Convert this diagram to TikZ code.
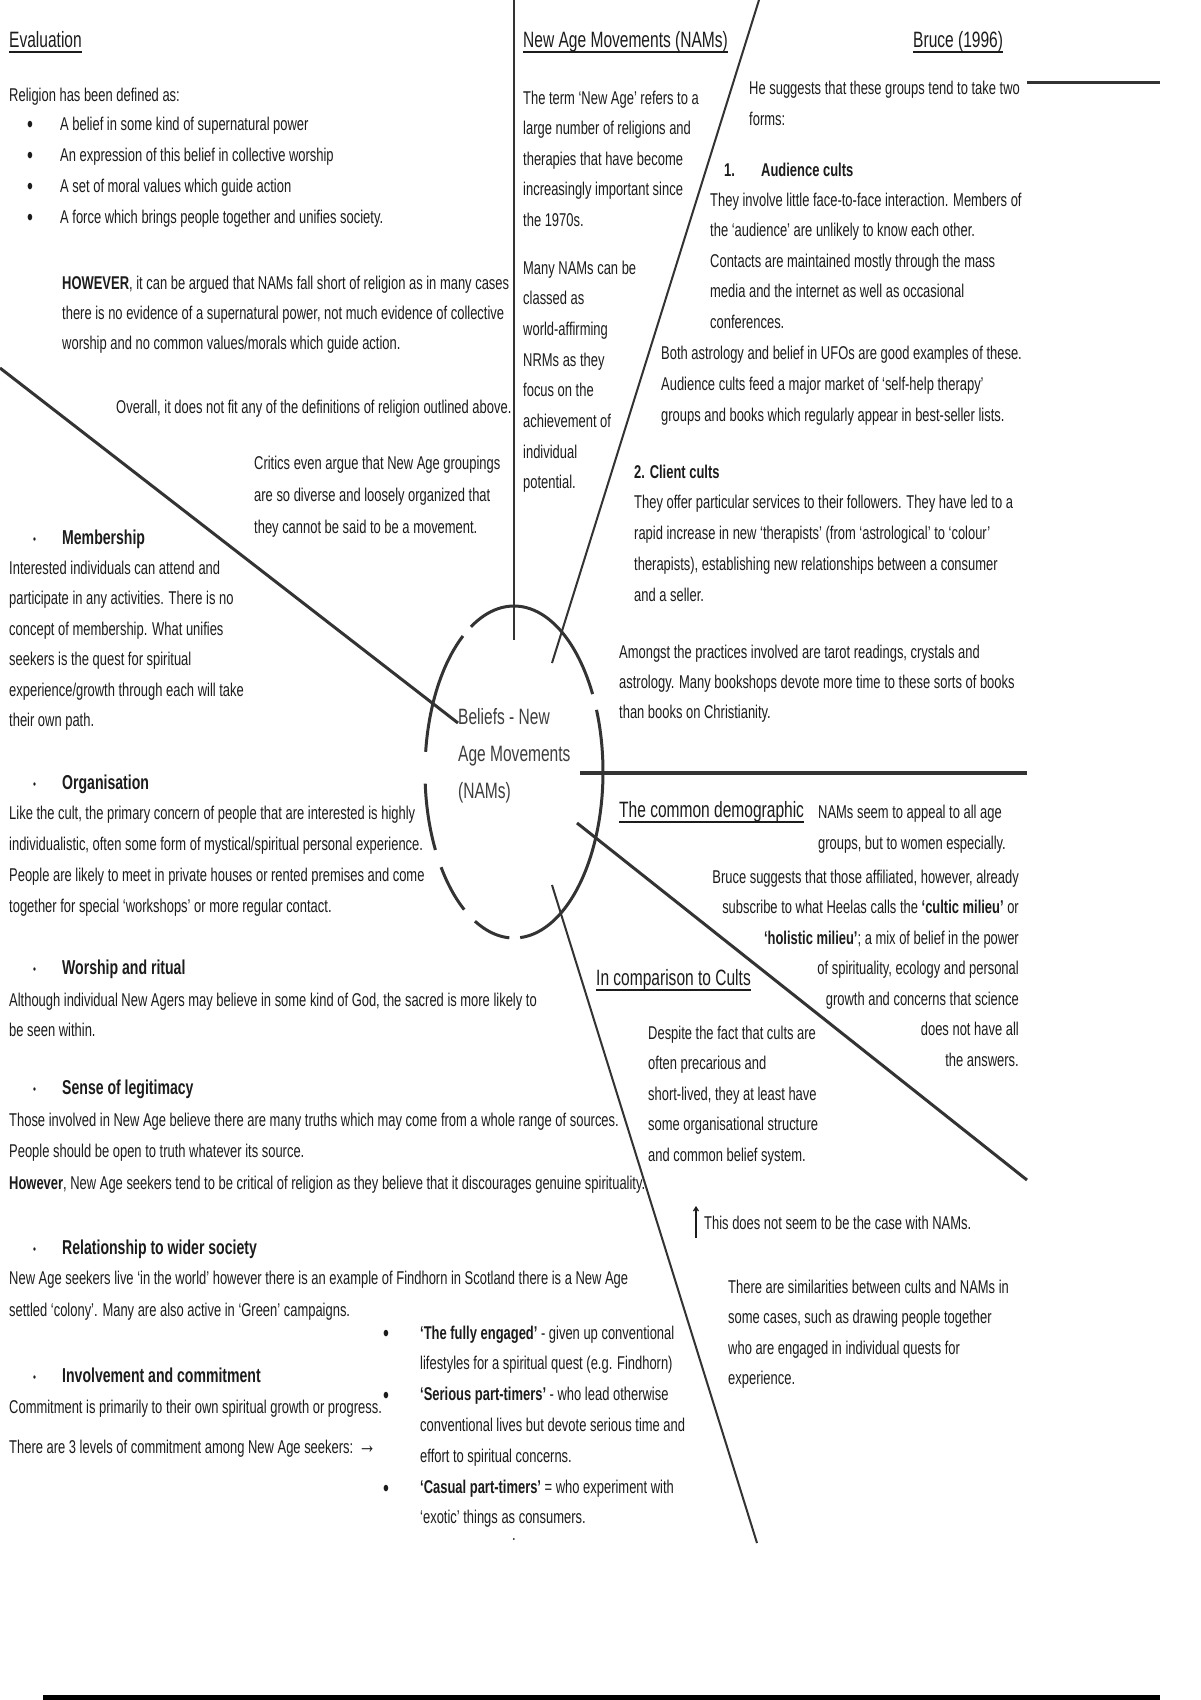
\documentclass[tikz,border=0pt]{standalone}
\usepackage{fontspec}
\usetikzlibrary{arrows.meta}
\setmainfont{Liberation Sans}[FakeStretch=0.70]
\definecolor{txtc}{HTML}{1C1C1C}
\definecolor{linec}{HTML}{333333}
\newcommand\txtblock[6]{%
  \foreach \lineText [count=\idx from 0] in {#6} {%
    \node[#2] (#1-\idx) at (#3, {#4+\idx*#5}) {\lineText};
  }%
}
\newcommand\ulinenode[1]{\draw[uline] ([yshift=-4pt]#1.base west) -- ([yshift=-4pt]#1.base east);}
\begin{document}
\begin{tikzpicture}[x=1pt,y=-1pt,
  bodytxt/.style={inner sep=0pt, anchor=base west, text=txtc, font=\fontsize{18.5}{22}\selectfont},
  bodyright/.style={bodytxt, anchor=base east},
  headtxt/.style={inner sep=0pt, anchor=base west, text=txtc, font=\fontsize{22.2}{26}\selectfont},
  circtxt/.style={inner sep=0pt, anchor=base west, text=txtc!85, font=\fontsize{22.2}{26}\selectfont},
  subhead/.style={inner sep=0pt, anchor=base west, text=txtc, font=\fontsize{20.1}{24}\selectfont\bfseries},
  boldtxt/.style={inner sep=0pt, anchor=base west, text=txtc, font=\fontsize{18.5}{22}\selectfont\bfseries},
  smallbul/.style={inner sep=0pt, anchor=base west, text=txtc, font=\fontsize{12}{14}\selectfont},
  bigbul/.style={inner sep=0pt, anchor=base west, text=txtc, font=\fontsize{24}{28}\selectfont},
  uline/.style={line width=2pt, draw=txtc},
  thinline/.style={draw=linec, line width=2pt},
  midline/.style={draw=linec, line width=3pt},
  thickline/.style={draw=linec, line width=4pt},
  circ/.style={draw=linec, line width=3pt},
]
\useasboundingbox (0,0) rectangle (1200,1700);
\fill[white] (0,0) rectangle (1200,1700);

% ---------- dividing lines ----------
\coordinate (vTop) at (514,0);   \coordinate (vBot) at (514,640);
\coordinate (dA) at (759,0);     \coordinate (dB) at (552,663);
\coordinate (ulA) at (0,368);    \coordinate (ulB) at (458,723);
\coordinate (hA) at (580,773);   \coordinate (hB) at (1027,773);
\coordinate (lrA) at (577,823);  \coordinate (lrB) at (1027,1180);
\coordinate (ldA) at (552,885);  \coordinate (ldB) at (757,1543);
\coordinate (trA) at (1027,82);  \coordinate (trB) at (1160,82);
\coordinate (btA) at (43,1697);  \coordinate (btB) at (1160,1697);
\draw[thinline] (vTop) -- (vBot);
\draw[thinline] (dA) -- (dB);
\draw[midline] (ulA) -- (ulB);
\draw[thickline] (hA) -- (hB);
\draw[midline] (lrA) -- (lrB);
\draw[thinline] (ldA) -- (ldB);
\draw[midline] (trA) -- (trB);
\draw[line width=5pt, black] (btA) -- (btB);

% ---------- central dashed ellipse ----------
\coordinate (C) at (514,772);
\foreach \a/\b in {28/119,125/173,184/208,215/236,244/267,274/382} {
  \draw[circ] plot[domain=\a:\b, samples=40, smooth] ({514+89*cos(\x)}, {772-166*sin(\x)});
}
\txtblock{ctr}{circtxt}{458}{724}{37}{{Beliefs - New},{Age Movements},{(NAMs)}}

% ---------- Evaluation (left top) ----------
\node[headtxt] (hEval) at (9,47.5) {Evaluation};
\ulinenode{hEval}
\node[bodytxt] (relig) at (9,101) {Religion has been defined as:};
\txtblock{rbul}{bigbul}{27}{132}{31}{{•},{•},{•},{•}}
\txtblock{rdef}{bodytxt}{60}{130}{31}{{A belief in some kind of supernatural power},{An expression of this belief in collective worship},{A set of moral values which guide action},{A force which brings people together and unifies society.}}
\txtblock{howev}{bodytxt}{62}{289}{30}{{\textbf{HOWEVER}, it can be argued that NAMs fall short of religion as in many cases},{there is no evidence of a supernatural power, not much evidence of collective},{worship and no common values/morals which guide action.}}
\node[bodytxt] (overall) at (116,413) {Overall, it does not fit any of the definitions of religion outlined above.};
\txtblock{critics}{bodytxt}{254}{469}{32}{{Critics even argue that New Age groupings},{are so diverse and loosely organized that},{they cannot be said to be a movement.}}

% ---------- left column headings ----------
\node[smallbul] (b1) at (33,543) {•};
\node[subhead] (hMemb) at (62,544) {Membership};
\txtblock{memb}{bodytxt}{9}{574}{30.5}{{Interested individuals can attend and},{participate in any activities. There is no},{concept of membership. What unifies},{seekers is the quest for spiritual},{experience/growth through each will take},{their own path.}}

\node[smallbul] (b2) at (33,788) {•};
\node[subhead] (hOrg) at (62,789) {Organisation};
\txtblock{org}{bodytxt}{9}{819}{31}{{Like the cult, the primary concern of people that are interested is highly},{individualistic, often some form of mystical/spiritual personal experience.},{People are likely to meet in private houses or rented premises and come},{together for special ‘workshops’ or more regular contact.}}

\node[smallbul] (b3) at (33,973) {•};
\node[subhead] (hWor) at (62,974) {Worship and ritual};
\txtblock{wor}{bodytxt}{9}{1006}{30}{{Although individual New Agers may believe in some kind of God, the sacred is more likely to},{be seen within.}}

\node[smallbul] (b4) at (33,1093) {•};
\node[subhead] (hSen) at (62,1094) {Sense of legitimacy};
\txtblock{sen}{bodytxt}{9}{1126}{31.5}{{Those involved in New Age believe there are many truths which may come from a whole range of sources.},{People should be open to truth whatever its source.},{\textbf{However}, New Age seekers tend to be critical of religion as they believe that it discourages genuine spirituality.}}

\node[smallbul] (b5) at (33,1253) {•};
\node[subhead] (hRel) at (62,1254) {Relationship to wider society};
\txtblock{rel}{bodytxt}{9}{1284}{32}{{New Age seekers live ‘in the world’ however there is an example of Findhorn in Scotland there is a New Age},{settled ‘colony’. Many are also active in ‘Green’ campaigns.}}

\node[smallbul] (b6) at (33,1381) {•};
\node[subhead] (hInv) at (62,1382) {Involvement and commitment};
\node[bodytxt] (inv1) at (9,1413) {Commitment is primarily to their own spiritual growth or progress.};
\node[bodytxt] (inv2) at (9,1453) {There are 3 levels of commitment among New Age seekers: {\fontsize{26}{28}\selectfont →}};

\node[bigbul] (cb1) at (383,1341) {•};
\node[bigbul] (cb2) at (383,1403) {•};
\node[bigbul] (cb3) at (383,1496) {•};
\txtblock{lev}{bodytxt}{420}{1339}{30.8}{{\textbf{‘The fully engaged’} - given up conventional},{lifestyles for a spiritual quest (e.g. Findhorn)},{\textbf{‘Serious part-timers’} - who lead otherwise},{conventional lives but devote serious time and},{effort to spiritual concerns.},{\textbf{‘Casual part-timers’} = who experiment with},{‘exotic’ things as consumers.}}
\node[bodytxt] (stray) at (512,1540) {.};

% ---------- NAMs column ----------
\node[headtxt] (hNam) at (523,47.5) {New Age Movements (NAMs)};
\ulinenode{hNam}
\txtblock{nam}{bodytxt}{523}{104}{30.5}{{The term ‘New Age’ refers to a},{large number of religions and},{therapies that have become},{increasingly important since},{the 1970s.}}
\txtblock{nrm}{bodytxt}{523}{274}{30.7}{{Many NAMs can be},{classed as},{world-affirming},{NRMs as they},{focus on the},{achievement of},{individual},{potential.}}

% ---------- Bruce (1996) ----------
\node[headtxt] (hBruce) at (913,47.5) {Bruce (1996)};
\ulinenode{hBruce}
\txtblock{he}{bodytxt}{749}{94}{31}{{He suggests that these groups tend to take two},{forms:}}
\node[boldtxt] (n1) at (724,176) {1.};
\node[boldtxt] (hAud) at (761,176) {Audience cults};
\txtblock{aud}{bodytxt}{710}{206}{30.5}{{They involve little face-to-face interaction. Members of},{the ‘audience’ are unlikely to know each other.},{Contacts are maintained mostly through the mass},{media and the internet as well as occasional},{conferences.}}
\txtblock{both}{bodytxt}{661}{359}{31}{{Both astrology and belief in UFOs are good examples of these.},{Audience cults feed a major market of ‘self-help therapy’},{groups and books which regularly appear in best-seller lists.}}
\node[boldtxt] (hCli) at (634,478) {2. Client cults};
\txtblock{cli}{bodytxt}{634}{508}{31}{{They offer particular services to their followers. They have led to a},{rapid increase in new ‘therapists’ (from ‘astrological’ to ‘colour’},{therapists), establishing new relationships between a consumer},{and a seller.}}
\txtblock{amg}{bodytxt}{619}{658}{30}{{Amongst the practices involved are tarot readings, crystals and},{astrology. Many bookshops devote more time to these sorts of books},{than books on Christianity.}}

% ---------- common demographic ----------
\node[headtxt] (hDemo) at (619,817.5) {The common demographic};
\ulinenode{hDemo}
\txtblock{app}{bodytxt}{818}{818}{31}{{NAMs seem to appeal to all age},{groups, but to women especially.}}
\txtblock{bsug}{bodyright}{1019}{883}{30.5}{{Bruce suggests that those affiliated, however, already},{subscribe to what Heelas calls the \textbf{‘cultic milieu’} or},{\textbf{‘holistic milieu’}; a mix of belief in the power},{of spirituality, ecology and personal},{growth and concerns that science},{does not have all},{the answers.}}

% ---------- comparison to cults ----------
\node[headtxt] (hComp) at (596,985.5) {In comparison to Cults};
\ulinenode{hComp}
\txtblock{desp}{bodytxt}{648}{1039}{30.5}{{Despite the fact that cults are},{often precarious and},{short-lived, they at least have},{some organisational structure},{and common belief system.}}
\coordinate (arrBot) at (696,1238);
\coordinate (arrTop) at (696,1206);
\draw[line width=1.2pt, draw=txtc, -{Straight Barb[length=4pt,width=5pt]}] (arrBot) -- (arrTop);
\node[bodytxt] (notNam) at (704,1229) {This does not seem to be the case with NAMs.};
\txtblock{sim}{bodytxt}{728}{1293}{30.5}{{There are similarities between cults and NAMs in},{some cases, such as drawing people together},{who are engaged in individual quests for},{experience.}}
\end{tikzpicture}
\end{document}
